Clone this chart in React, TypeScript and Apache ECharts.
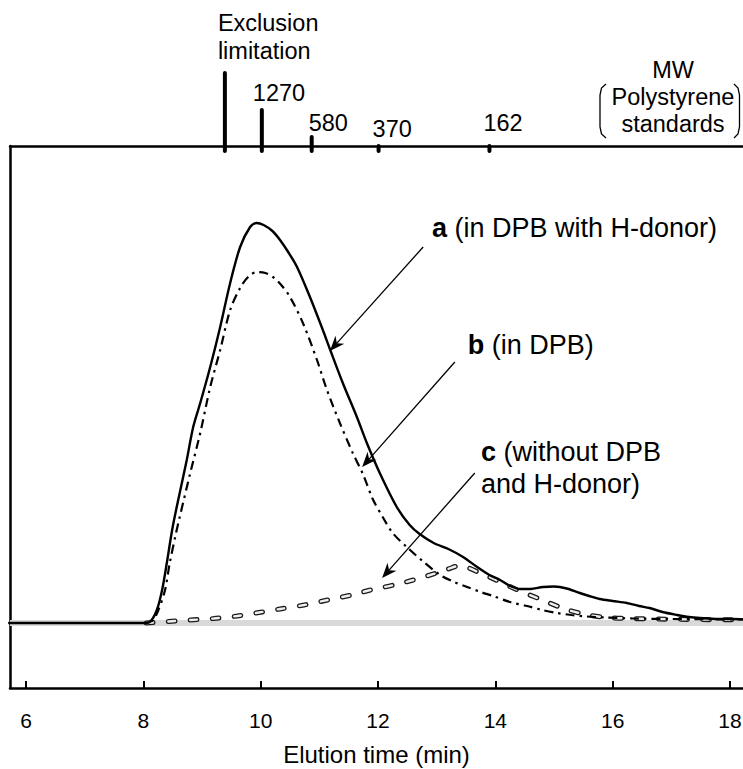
import React, { useEffect, useRef } from "react";
import * as echarts from "echarts";

// ---- Axis extents (elution time, min; signal in arbitrary units above baseline) ----
const X_MIN = 5.727;
const X_MAX = 18.222;
const Y_MIN = -65;
const Y_MAX = 477;
const X_TICKS = [6, 8, 10, 12, 14, 16, 18];

// ---- Curve a: in DPB with H-donor (solid) ----
const curveA: [number, number][] = [
  [5.7, 0], [8.0, 0], [8.11, 1], [8.23, 13], [8.32, 33], [8.4, 60], [8.5, 96], [8.62, 130],
  [8.74, 163], [8.85, 196], [8.97, 220], [9.14, 256], [9.31, 296], [9.48, 340], [9.65, 376],
  [9.82, 396], [9.93, 400], [10.05, 398], [10.2, 392], [10.33, 383], [10.48, 370], [10.62, 356],
  [10.84, 326], [11.06, 293], [11.18, 274], [11.4, 240], [11.64, 206], [11.81, 180], [12.03, 150],
  [12.32, 116], [12.54, 98], [12.71, 89], [12.95, 80], [13.2, 74], [13.45, 66], [13.69, 56],
  [13.9, 48], [14.08, 43], [14.25, 37], [14.42, 34], [14.6, 34], [14.81, 36], [15.0, 36.5],
  [15.1, 36], [15.25, 34], [15.44, 30], [15.6, 27], [15.78, 24], [16.0, 22], [16.24, 20],
  [16.45, 17], [16.63, 15], [16.85, 11], [17.1, 8], [17.3, 6], [17.49, 5], [17.8, 4],
  [18.05, 4], [18.25, 3.5],
];

// ---- Curve b: in DPB (dash-dot) ----
const curveB: [number, number][] = [
  [5.7, 0], [8.0, 0], [8.15, 2], [8.25, 12], [8.37, 33], [8.45, 60], [8.55, 88], [8.62, 106],
  [8.8, 150], [8.97, 190], [9.14, 236], [9.31, 273], [9.48, 313], [9.65, 335], [9.8, 347],
  [9.94, 351], [10.08, 350], [10.21, 346], [10.35, 338], [10.5, 326], [10.72, 300], [10.96, 263],
  [11.13, 233], [11.35, 200], [11.57, 170], [11.75, 148], [11.91, 124], [12.08, 106], [12.25, 90],
  [12.49, 76], [12.76, 62], [13.06, 48], [13.3, 41], [13.52, 36], [13.75, 31], [13.96, 27],
  [14.25, 21], [14.54, 17], [14.8, 13], [15.05, 10], [15.3, 8], [15.56, 6.5], [15.9, 5.5],
  [16.35, 4.5], [17.0, 4], [18.25, 3.5],
];

// ---- Curve c: without DPB and H-donor (hollow dashes); hidden under a/b before 8 min ----
const curveC: [number, number][] = [
  [8.05, 0], [8.43, 1.5], [8.8, 3], [9.2, 4.5], [9.6, 7], [9.97, 10.5], [10.33, 14],
  [10.74, 18], [11.14, 23], [11.55, 28], [11.87, 33], [12.27, 38], [12.6, 43], [13.0, 50],
  [13.2, 54], [13.37, 57], [13.55, 55], [13.7, 51], [13.9, 46], [14.08, 41], [14.42, 32],
  [14.76, 24], [15.14, 15], [15.5, 9], [15.9, 5.5], [16.3, 4.5], [16.7, 4], [18.25, 3],
];

const baseline: [number, number][] = [[X_MIN, 0], [X_MAX, 0]];

// ---- MW polystyrene standards (top axis markers) ----
const mwLabels = ["Exclusion\nlimitation", "1270", "580", "370", "162"];
const mwTimes = [9.39, 10.02, 10.87, 12.01, 13.9];
const mwStickLen = [75, 38, 11, 2, 2];

// ---- Annotations ----
const annoLabels = [
  "{bold|a} (in DPB with H-donor)",
  "{bold|b} (in DPB)",
  "{bold|c} (without DPB\nand H-donor)",
];
const annoAnchor: [number, number][] = [[12.92, 395], [13.53, 278], [13.755, 155]];
// arrows: tail x, tail y, tip x, tip y
const arrows: [number, number, number, number][] = [
  [12.77, 376, 11.18, 272],
  [13.31, 261, 11.73, 156],
  [13.65, 150, 12.07, 45],
];

const FONT = "'Liberation Sans', Arial, Helvetica, sans-serif";

// label placement relative to tick (style offsets)
const mwLabelDx = [-7, -9, -3, -6, -6];
const mwLabelBaseAbove = [87, 45, 15, 9, 15];
const TOP_FS = 23.5;
const TOP_LH = 28;

export default function App() {
  const ref = useRef<HTMLDivElement>(null);

  useEffect(() => {
    if (!ref.current) return;
    const chart = echarts.init(ref.current, null, { renderer: "svg" });
    const baseOff = TOP_LH / 2 - 0.3465 * TOP_FS;

    const option: any = {
      animation: false,
      textStyle: { fontFamily: FONT, color: "#000" },
      grid: {
        left: 10,
        right: 0,
        top: 146,
        bottom: 81,
        containLabel: false,
        outerBoundsMode: "none",
      },
      xAxis: [
        {
          type: "value",
          position: "bottom",
          min: X_MIN,
          max: X_MAX,
          axisLine: { show: true, onZero: false, lineStyle: { color: "#000", width: 2.5 } },
          axisTick: {
            show: true,
            inside: true,
            length: 7,
            customValues: X_TICKS,
            lineStyle: { color: "#000", width: 2 },
          },
          axisLabel: {
            show: true,
            customValues: X_TICKS,
            fontSize: 21,
            color: "#000",
            fontFamily: FONT,
            margin: 22,
          },
          splitLine: { show: false },
          name: "Elution time (min)",
          nameLocation: "middle",
          nameGap: 54,
          nameTextStyle: { fontSize: 24, color: "#000", fontFamily: FONT },
        },
        {
          type: "value",
          position: "top",
          min: X_MIN,
          max: X_MAX,
          axisLine: { show: true, onZero: false, lineStyle: { color: "#000", width: 2.5 } },
          axisTick: { show: false },
          axisLabel: { show: false },
          splitLine: { show: false },
        },
      ],
      yAxis: {
        type: "value",
        min: Y_MIN,
        max: Y_MAX,
        axisLine: { show: true, onZero: false, lineStyle: { color: "#000", width: 2.5 } },
        axisTick: { show: false },
        axisLabel: { show: false },
        splitLine: { show: false },
      },
      series: [
        {
          type: "line",
          name: "baseline",
          data: baseline,
          symbol: "none",
          silent: true,
          lineStyle: { color: "#d9d9d9", width: 6 },
          z: 1,
        },
        {
          type: "line",
          name: "c-outline",
          data: curveC,
          symbol: "none",
          smooth: 0.3,
          silent: true,
          lineStyle: { color: "#1a1a1a", width: 5, type: [7, 15], cap: "round" },
          z: 2,
        },
        {
          type: "line",
          name: "c",
          data: curveC,
          symbol: "none",
          smooth: 0.3,
          silent: true,
          lineStyle: { color: "#eeeeee", width: 2.4, type: [7, 15], cap: "round" },
          z: 3,
        },
        {
          type: "line",
          name: "b",
          data: curveB,
          symbol: "none",
          smooth: 0.3,
          silent: true,
          lineStyle: { color: "#000", width: 2.2, type: [9, 5, 2.5, 5] },
          z: 4,
        },
        {
          type: "line",
          name: "a",
          data: curveA,
          symbol: "none",
          smooth: 0.3,
          silent: true,
          lineStyle: { color: "#000", width: 2.4 },
          z: 5,
        },
        {
          type: "scatter",
          name: "annotations",
          data: annoAnchor.map((p, i) => ({ value: p, label: { formatter: annoLabels[i] } })),
          symbolSize: 0,
          silent: true,
          z: 6,
          label: {
            show: true,
            position: "right",
            distance: 0,
            fontSize: 27,
            lineHeight: 32,
            color: "#000",
            opacity: 1,
            fontFamily: FONT,
            align: "left",
            verticalAlign: "middle",
            rich: {
              bold: { fontSize: 27, fontWeight: "bold", color: "#000", fontFamily: FONT, lineHeight: 32 },
            },
          },
        },
        {
          type: "custom",
          name: "arrows",
          data: arrows,
          clip: false,
          silent: true,
          z: 7,
          encode: { x: [0, 2], y: [1, 3] },
          renderItem: (params: any, api: any) => {
            const p0 = api.coord([api.value(0), api.value(1)]);
            const p1 = api.coord([api.value(2), api.value(3)]);
            const dx = p1[0] - p0[0];
            const dy = p1[1] - p0[1];
            const len = Math.sqrt(dx * dx + dy * dy);
            const ux = dx / len;
            const uy = dy / len;
            const nx = -uy;
            const ny = ux;
            const L = 15;
            const W = 6;
            const back = [p1[0] - L * ux, p1[1] - L * uy];
            const notch = [p1[0] - L * 0.7 * ux, p1[1] - L * 0.7 * uy];
            return {
              type: "group",
              children: [
                {
                  type: "line",
                  shape: { x1: p0[0], y1: p0[1], x2: notch[0], y2: notch[1] },
                  style: { stroke: "#000", lineWidth: 1.3 },
                },
                {
                  type: "polygon",
                  shape: {
                    points: [
                      [p1[0], p1[1]],
                      [back[0] + W * nx, back[1] + W * ny],
                      [notch[0], notch[1]],
                      [back[0] - W * nx, back[1] - W * ny],
                    ],
                  },
                  style: { fill: "#000" },
                },
              ],
            };
          },
        },
        {
          type: "custom",
          name: "MW standards",
          data: mwTimes.map((t, i) => [t, mwStickLen[i], i]),
          clip: false,
          silent: true,
          xAxisIndex: 0,
          yAxisIndex: 0,
          z: 8,
          renderItem: (params: any, api: any) => {
            const x = api.value(0);
            const stick = api.value(1);
            const idx = api.value(2);
            const p = api.coord([x, Y_MAX]);
            const baseY = p[1] - mwLabelBaseAbove[idx];
            return {
              type: "group",
              children: [
                {
                  type: "line",
                  shape: { x1: p[0], y1: p[1] - stick + 2, x2: p[0], y2: p[1] + 5 },
                  style: { stroke: "#000", lineWidth: 4, lineCap: "round" },
                },
                {
                  type: "text",
                  x: p[0] + mwLabelDx[idx],
                  y: baseY + baseOff,
                  style: {
                    text: mwLabels[idx],
                    fill: "#000",
                    font: TOP_FS + "px " + FONT,
                    fontSize: TOP_FS,
                    fontFamily: FONT,
                    lineHeight: TOP_LH,
                    align: "left",
                    textAlign: "left",
                    verticalAlign: "bottom",
                    textVerticalAlign: "bottom",
                  },
                },
              ],
            };
          },
        },
      ],
      graphic: [
        {
          type: "text",
          x: 673,
          y: 137.5,
          silent: true,
          style: {
            text: "MW\nPolystyrene\nstandards",
            fill: "#000",
            font: TOP_FS + "px " + FONT,
            fontSize: TOP_FS,
            fontFamily: FONT,
            lineHeight: 27,
            align: "center",
            textAlign: "center",
            verticalAlign: "bottom",
            textVerticalAlign: "bottom",
          },
        },
        {
          type: "polyline",
          silent: true,
          shape: {
            points: [[606, 84], [601.5, 88], [600, 95], [600, 127], [601.5, 134], [606, 138]],
          },
          style: { stroke: "#000", lineWidth: 1.3, fill: null },
        },
        {
          type: "polyline",
          silent: true,
          shape: {
            points: [[734, 84], [738, 88], [739.5, 95], [739.5, 127], [738, 134], [734, 138]],
          },
          style: { stroke: "#000", lineWidth: 1.3, fill: null },
        },
      ],
    };

    chart.setOption(option);
    return () => chart.dispose();
  }, []);

  return (
    <div
      ref={ref}
      style={{ position: "fixed", left: 0, top: 0, width: 743, height: 769, background: "#fff" }}
    />
  );
}
